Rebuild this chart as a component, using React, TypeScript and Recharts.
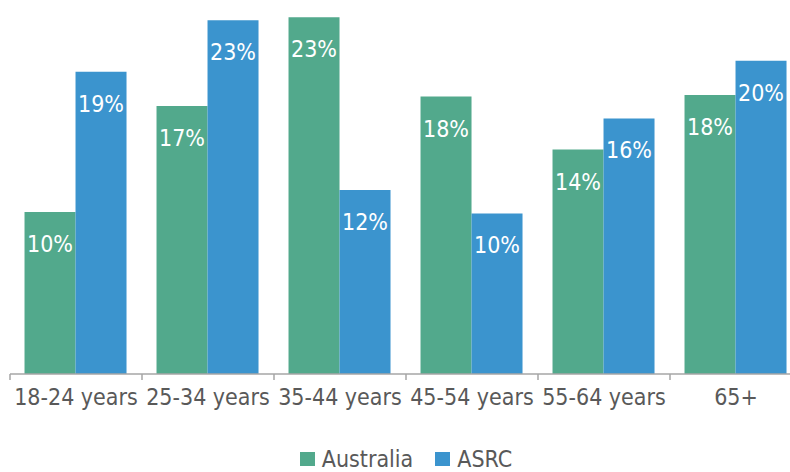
import React from 'react';
import { BarChart, Bar, XAxis, YAxis, Legend, LabelList } from 'recharts';

const ageGroups = ['18-24 years', '25-34 years', '35-44 years', '45-54 years', '55-64 years', '65+'];
const australia = [10.4, 17.2, 22.9, 17.8, 14.4, 17.9];
const asrc = [19.4, 22.7, 11.8, 10.3, 16.4, 20.1];
const seriesNames = ['Australia', 'ASRC'];

const GREEN = '#52a98c';
const BLUE = '#3b94ce';
const AXIS = '#a6a6a6';
const TEXT = '#595959';
const FONT = '"DejaVu Sans Condensed", "DejaVu Sans", sans-serif';

const data = ageGroups.map((group, i) => ({
  group,
  australia: australia[i],
  asrc: asrc[i],
}));

// percentage printed inside the top of each bar
const BarValue = (props: any) => {
  const { x, y, width, value } = props;
  return (
    <text
      x={x + width / 2}
      y={y + 40}
      textAnchor="middle"
      fill="#ffffff"
      fontSize={23}
      fontFamily={FONT}
      fontStretch="condensed"
    >
      {Math.round(value)}%
    </text>
  );
};

// category label plus the small tick marks on the group boundaries
const GroupTick = (props: any) => {
  const { x, y, payload, index, width } = props;
  const step = (width || 792) / ageGroups.length;
  const left = x - step / 2;
  const right = x + step / 2;
  return (
    <g>
      <line x1={left} x2={left} y1={y} y2={y + 6} stroke={AXIS} strokeWidth={1.5} />
      {index === ageGroups.length - 1 && (
        <line x1={right} x2={right} y1={y} y2={y + 6} stroke={AXIS} strokeWidth={1.5} />
      )}
      <text
        x={x}
        y={y + 31}
        textAnchor="middle"
        fill={TEXT}
        fontSize={23}
        fontFamily={FONT}
        fontStretch="condensed"
      >
        {payload.value}
      </text>
    </g>
  );
};

const LegendBox = ({ payload }: any) => {
  const items = [...(payload || [])].sort(
    (a: any, b: any) => seriesNames.indexOf(a.value) - seriesNames.indexOf(b.value)
  );
  return (
    <div
      style={{
        display: 'flex',
        justifyContent: 'center',
        alignItems: 'center',
        height: 26,
        gap: 22,
        fontFamily: FONT,
        fontStretch: 'condensed',
        fontSize: 23,
        color: TEXT,
      }}
    >
      {items.map((item: any) => (
        <div key={item.value} style={{ display: 'flex', alignItems: 'center', gap: 7 }}>
          <span style={{ width: 15, height: 14, background: item.color, display: 'inline-block' }} />
          <span>{item.value}</span>
        </div>
      ))}
    </div>
  );
};

export default function App() {
  return (
    <div style={{ position: 'absolute', left: 0, top: 0, width: 790, height: 472, overflow: 'hidden', background: '#fff' }}>
      <BarChart
        width={810}
        height={472}
        data={data}
        margin={{ top: 0, right: 8, left: 10, bottom: 0 }}
        barCategoryGap="11%"
        barGap={0}
      >
        <XAxis
          dataKey="group"
          height={72}
          axisLine={{ stroke: AXIS, strokeWidth: 1.5 }}
          tickLine={false}
          tickSize={0}
          tickMargin={0}
          interval={0}
          tick={<GroupTick />}
        />
        <YAxis hide domain={[0, 24]} />
        <Legend verticalAlign="bottom" content={<LegendBox />} />
        <Bar dataKey="australia" name="Australia" fill={GREEN} isAnimationActive={false}>
          <LabelList dataKey="australia" content={<BarValue />} />
        </Bar>
        <Bar dataKey="asrc" name="ASRC" fill={BLUE} isAnimationActive={false}>
          <LabelList dataKey="asrc" content={<BarValue />} />
        </Bar>
      </BarChart>
    </div>
  );
}
